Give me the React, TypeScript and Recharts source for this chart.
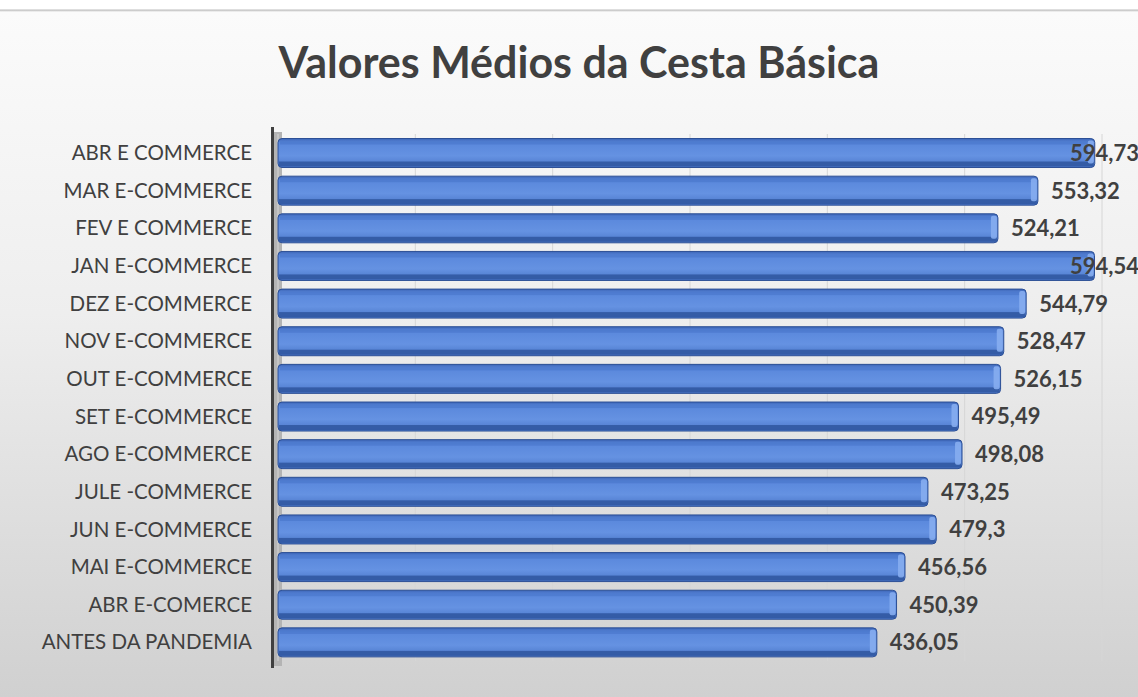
import React from 'react';
import { BarChart, Bar, XAxis, YAxis, CartesianGrid, LabelList } from 'recharts';

const categories = [
  'ABR E COMMERCE',
  'MAR E-COMMERCE',
  'FEV E COMMERCE',
  'JAN E-COMMERCE',
  'DEZ E-COMMERCE',
  'NOV E-COMMERCE',
  'OUT E-COMMERCE',
  'SET E-COMMERCE',
  'AGO E-COMMERCE',
  'JULE -COMMERCE',
  'JUN E-COMMERCE',
  'MAI E-COMMERCE',
  'ABR E-COMERCE',
  'ANTES DA PANDEMIA',
];

const values = [594.73, 553.32, 524.21, 594.54, 544.79, 528.47, 526.15, 495.49, 498.08, 473.25, 479.3, 456.56, 450.39, 436.05];

const xTicks = [0, 100, 200, 300, 400, 500, 600];

const data = categories.map((name, i) => ({ name, value: values[i] }));

const fmt = (v: any) => String(v).replace('.', ',');

const W = 1138;
const H = 697;

// barra com aparência 3D simples
const Bar3D = (props: any) => {
  const { x, y, width, height } = props;
  if (!width || width <= 0) return null;
  return (
    <g>
      <rect x={x} y={y} width={width} height={height} rx={4} fill="url(#barGrad)" stroke="#2c4f95" strokeWidth={1} />
      <rect x={x + 2} y={y + 3} width={width - 4} height={3} fill="#4a78cc" opacity={0.7} />
      <rect x={x + 1} y={y + height - 6} width={width - 2} height={5} fill="#2f569f" opacity={0.85} />
      <rect x={x + width - 7} y={y + 2} width={6} height={height - 6} rx={2} fill="#86adf0" opacity={0.9} />
    </g>
  );
};

// rótulo de valor: se não couber, encosta na borda direita
const ValueLabel = (props: any) => {
  const { x, y, width, height, value } = props;
  const txt = fmt(value);
  const start = x + width + 13;
  const approxW = txt.length * 12;
  const fits = start + approxW <= W;
  return (
    <text
      x={fits ? start : W + 1}
      y={y + height / 2}
      dy="0.36em"
      textAnchor={fits ? 'start' : 'end'}
      fontSize={22}
      fontWeight={700}
      fill="#404040"
      fontFamily="Lato, sans-serif"
    >
      {txt}
    </text>
  );
};

export default function App() {
  return (
    <div
      style={{
        position: 'absolute',
        left: 0,
        top: 0,
        width: W,
        height: H,
        background: 'linear-gradient(180deg, #ffffff 0px, #ffffff 9px, #bdbdbd 10px, #fbfbfb 12px, #eeeeee 45%, #d0d0d0 100%)',
        fontFamily: 'Lato, sans-serif',
        overflow: 'hidden',
      }}
    >
      <div
        style={{
          position: 'absolute',
          top: 36,
          left: 0,
          width: 1158,
          textAlign: 'center',
          fontSize: 43,
          fontWeight: 700,
          color: '#404040',
        }}
      >
        Valores Médios da Cesta Básica
      </div>
      <div style={{ position: 'absolute', left: 273, top: 132, width: 9, height: 534, background: '#b4b4b4' }} />
      <div style={{ position: 'absolute', left: 271, top: 127, width: 3, height: 541, background: '#404040' }} />
      <BarChart
        width={W}
        height={H}
        data={data}
        layout="vertical"
        margin={{ top: 134, right: 36, bottom: 36, left: 0 }}
        barCategoryGap="12%"
        style={{ position: 'absolute', left: 0, top: 0 }}
      >
        <defs>
          <linearGradient id="barGrad" x1="0" y1="0" x2="0" y2="1">
            <stop offset="0%" stopColor="#3d66b8" />
            <stop offset="15%" stopColor="#5a88dc" />
            <stop offset="60%" stopColor="#6592e2" />
            <stop offset="100%" stopColor="#4a76c8" />
          </linearGradient>
        </defs>
        <CartesianGrid horizontal={false} stroke="#d6d6d6" />
        <XAxis type="number" domain={[0, 600]} ticks={xTicks} hide />
        <YAxis
          type="category"
          dataKey="name"
          width={278}
          axisLine={false}
          tickLine={false}
          tickSize={0}
          tickMargin={26}
          tick={{ fontSize: 20.5, fill: '#404040', fontFamily: 'Lato, sans-serif' }}
          interval={0}
        />
        <Bar dataKey="value" shape={<Bar3D />} isAnimationActive={false}>
          <LabelList dataKey="value" content={<ValueLabel />} />
        </Bar>
      </BarChart>
    </div>
  );
}
